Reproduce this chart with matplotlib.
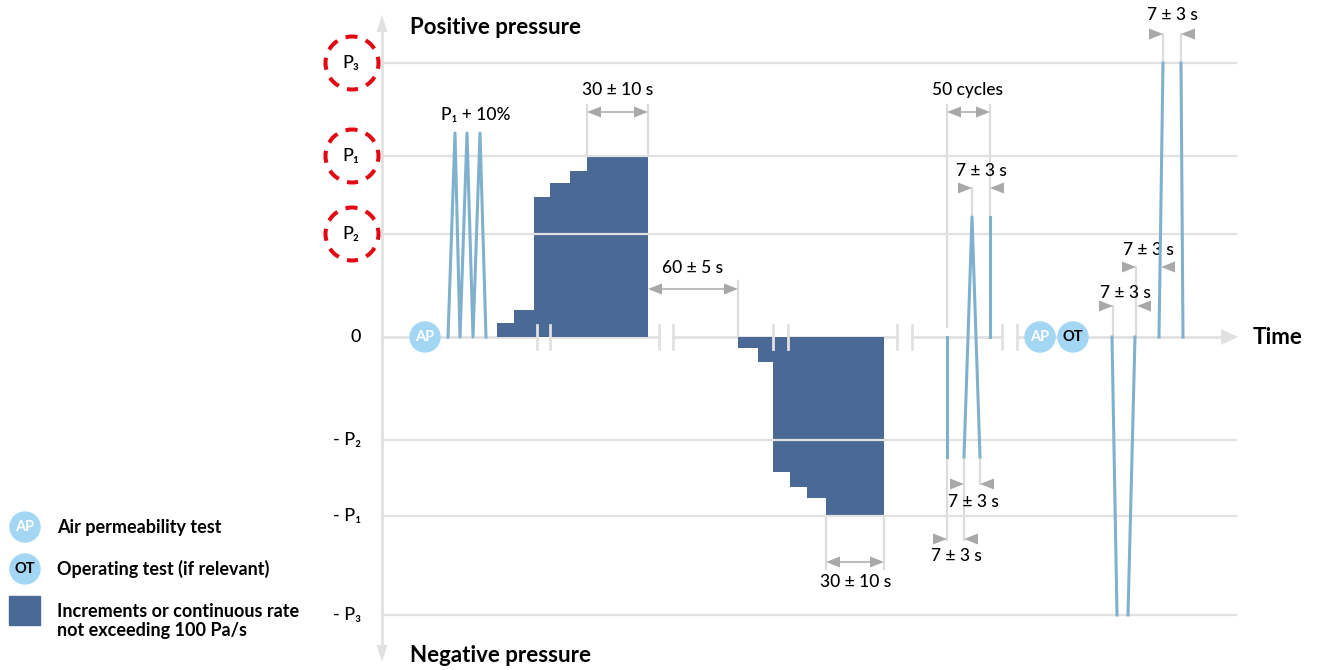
import numpy as np
import matplotlib.pyplot as plt
from matplotlib.patches import Circle, Rectangle

plt.rcParams['font.family'] = ['Lato', 'DejaVu Sans']

# pressure levels, 0 = time axis (1 unit ~ 1 px)
level_labels = ['P₃', 'P₁', 'P₂', '0', '- P₂', '- P₁', '- P₃']
level_values = [274, 181, 103, 0, -103, -179, -278]
circled_labels = ['P₃', 'P₁', 'P₂']

# P1 + 10% pulses
pulse_t = [448, 455, 460, 467, 473, 480, 486]
pulse_p = [0, 204, 0, 204, 0, 204, 0]

# stepped loading, positive and negative
pos_edges = [497, 514, 534, 550, 570, 587, 648]
pos_steps = [14, 27, 140, 154, 166, 181]
neg_edges = [738, 758, 773, 790, 807, 826, 884]
neg_steps = [-11, -25, -135, -150, -161, -179]

# repeated cycles (+/- P2 side)
cyc_t = [[947, 947], [964, 972, 980], [990, 990]]
cyc_p = [[0, -120], [-120, 120, -120], [120, 0]]

# final P3 pulses
fin_t = [[1112, 1117], [1128, 1135], [1159, 1163], [1181, 1183]]
fin_p = [[0, -278], [-278, 0], [0, 274], [274, 0]]

# axis breaks
breaks = [(537, 550), (659, 673), (773, 788), (897, 912), (1002, 1017)]

# test markers on the time axis
markers = [('AP', 425), ('AP', 1040), ('OT', 1073)]

DARK = '#4a6995'
LINE = '#7fb1cf'
BUBBLE = '#a2d6f3'
GRID = '#e1e1e1'
EXT = '#dcdcdc'
ARR = '#a8a8a8'
RED = '#e30613'
ANN = dict(fontsize=12.5, fontweight='medium', ha='center', va='center')

fig = plt.figure(figsize=(13.22, 6.70), dpi=100)
ax = fig.add_axes([0, 0, 1, 1])
ax.set_xlim(0, 1322)
ax.set_ylim(-333, 337)
ax.axis('off')

x_axis0, x_axis1 = 382, 1238


def head(tip, y, d, length=14, half=5.5, color=ARR):
    # horizontal triangle, d=+1 points right
    ax.fill([tip, tip - d * length, tip - d * length], [y, y + half, y - half],
            color=color, lw=0, zorder=6)


def dim(x0, x1, y):
    ax.plot([x0 + 10, x1 - 10], [y, y], color='#bdbdbd', lw=1.5, zorder=5)
    head(x0, y, -1)
    head(x1, y, 1)


def inward(x0, x1, y):
    head(x0, y, 1)
    head(x1, y, -1)


def ext(x, y0, y1):
    ax.plot([x, x], [y0, y1], color=EXT, lw=1.6, zorder=2)


# grid lines
for v in level_values:
    if v != 0:
        ax.plot([x_axis0, x_axis1 - 2], [v, v], color=GRID, lw=1.6, zorder=4)

# y axis with arrows
ax.plot([x_axis0, x_axis0], [-312, 312], color=GRID, lw=2, zorder=1)
ax.fill([x_axis0, x_axis0 - 5.5, x_axis0 + 5.5], [322, 305, 305], color=GRID, lw=0)
ax.fill([x_axis0, x_axis0 - 5.5, x_axis0 + 5.5], [-325, -308, -308], color=GRID, lw=0)

# time axis with breaks
cuts = [x_axis0] + [c for b in breaks for c in b] + [x_axis1 - 14]
for a, b in zip(cuts[::2], cuts[1::2]):
    ax.plot([a, b], [0, 0], color=GRID, lw=2, zorder=1)
for b in breaks:
    for x in b:
        ax.plot([x, x], [-12, 12], color=GRID, lw=2, zorder=4)
ax.fill([x_axis1, x_axis1 - 17, x_axis1 - 17], [0, 8, -8], color=GRID, lw=0)
ax.text(1253, 0, 'Time', fontsize=16, fontweight='bold', va='center', ha='left')

# stepped blocks
ax.stairs(pos_steps, pos_edges, baseline=0, fill=True, color=DARK, zorder=3)
ax.stairs(neg_steps, neg_edges, baseline=0, fill=True, color=DARK, zorder=3)

# pulses
ax.plot(pulse_t, pulse_p, color=LINE, lw=2.2, zorder=5)
for t, p in zip(cyc_t, cyc_p):
    ax.plot(t, p, color=LINE, lw=2.2, zorder=5)
for t, p in zip(fin_t, fin_p):
    ax.plot(t, p, color=LINE, lw=2.2, zorder=5)

# level labels
for lab, v in zip(level_labels, level_values):
    if lab in circled_labels:
        ax.add_patch(Circle((352, v), 26.5, fill=False, ec=RED, lw=2.9,
                            ls=(1.5, (3.0, 2.2)), zorder=5))
        ax.text(351, v, lab, fontsize=13, fontweight='medium', ha='center', va='center')
    else:
        ax.text(361, v, lab, fontsize=13, fontweight='medium', ha='right', va='center')

ax.text(410, 310, 'Positive pressure', fontsize=16, fontweight='bold', va='center')
ax.text(410, -318, 'Negative pressure', fontsize=16, fontweight='bold', va='center')

# markers
for lab, x in markers:
    ax.add_patch(Circle((x, 0), 15, color=BUBBLE, zorder=6))
    ax.text(x, 0, lab, fontsize=10.5, fontweight='bold', ha='center', va='center',
            color='white' if lab == 'AP' else 'black', zorder=7)

# annotations
ax.text(476, 222, 'P₁ + 10%', **ANN)

ext(pos_edges[-2], pos_steps[-1], 232)
ext(pos_edges[-1], pos_steps[-1], 232)
dim(pos_edges[-2], pos_edges[-1], 225)
ax.text(618, 247, '30 ± 10 s', **ANN)

ext(neg_edges[0], 0, 56)
dim(pos_edges[-1], neg_edges[0], 48)
ax.text(693, 69, '60 ± 5 s', **ANN)

ext(neg_edges[-2], neg_steps[-1], -232)
ext(neg_edges[-1], neg_steps[-1], -232)
dim(neg_edges[-2], neg_edges[-1], -225)
ax.text(856, -245, '30 ± 10 s', **ANN)

ext(947, 10, 232)
ext(990, 120, 232)
dim(947, 990, 225)
ax.text(968, 247, '50 cycles', **ANN)

ext(972, 120, 149)
inward(972, 990, 149)
ax.text(981, 166, '7 ± 3 s', **ANN)

ext(964, -120, -203)
ext(980, -120, -147)
ext(947, -120, -203)
inward(964, 980, -147)
ax.text(973, -165, '7 ± 3 s', **ANN)
inward(947, 964, -202)
ax.text(956, -219, '7 ± 3 s', **ANN)

ext(1163, 274, 303)
ext(1181, 274, 303)
inward(1163, 1181, 303)
ax.text(1172, 322, '7 ± 3 s', **ANN)

ext(1136, 0, 70)
inward(1136, 1161, 70)
ax.text(1148, 87, '7 ± 3 s', **ANN)

ext(1113, 0, 31)
inward(1113, 1137, 31)
ax.text(1125, 44, '7 ± 3 s', **ANN)

# legend
ax.add_patch(Circle((25, -190), 15, color=BUBBLE))
ax.text(25, -190, 'AP', fontsize=10.5, fontweight='bold', color='white', ha='center', va='center')
ax.add_patch(Circle((25, -232), 15, color=BUBBLE))
ax.text(25, -232, 'OT', fontsize=10.5, fontweight='bold', color='black', ha='center', va='center')
ax.add_patch(Rectangle((9, -288), 31, 29, color=DARK))
LEG = dict(fontsize=13, fontweight='bold', va='center')
ax.text(57, -190, 'Air permeability test', **LEG)
ax.text(57, -232, 'Operating test (if relevant)', **LEG)
ax.text(57, -284, 'Increments or continuous rate\nnot exceeding 100 Pa/s', linespacing=1.15, **LEG)

fig.savefig('out.png', dpi=100)
